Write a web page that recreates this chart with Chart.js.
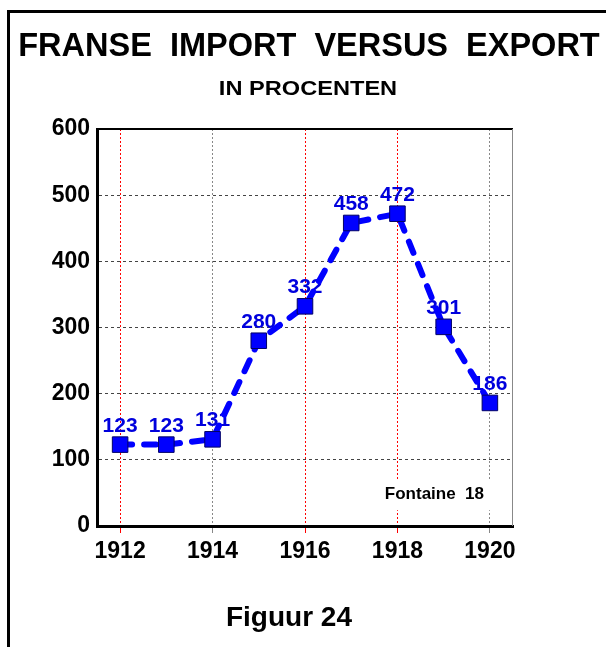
<!DOCTYPE html>
<html>
<head>
<meta charset="utf-8">
<script src="https://cdn.jsdelivr.net/npm/chart.js@4"></script>
<style>
  body { margin:0; background:#fff; }
  #wrap { position:relative; width:606px; height:647px; overflow:hidden; background:#fff; }
  #c { position:absolute; left:0; top:0; }
  .frame { position:absolute; left:7px; top:10px; right:-10px; bottom:-10px; border-left:3px solid #000; border-top:3px solid #000; }
  .txt { position:absolute; font-family:"Liberation Sans", Arial, sans-serif; font-weight:bold; color:#000; white-space:pre; line-height:1; }
  #title { left:0; width:618px; top:29px; font-size:32.5px; text-align:center; }
  #sub { left:0; width:616px; top:78px; font-size:20px; text-align:center; transform:scaleX(1.18); transform-origin:308px 0; }
  #fig { left:0; width:578px; top:603px; font-size:28px; text-align:center; }
</style>
</head>
<body>
<div id="wrap">
  <canvas id="c" width="606" height="647"></canvas>
  <div class="frame"></div>
  <div class="txt" id="title">FRANSE  IMPORT  VERSUS  EXPORT</div>
  <div class="txt" id="sub">IN PROCENTEN</div>
  <div class="txt" id="fig">Figuur 24</div>
</div>
<script>
// ==== データ ====
const YEARS   = [1912, 1913, 1914, 1915, 1916, 1917, 1918, 1919, 1920];
const PERCENT = [123, 123, 131, 280, 332, 458, 472, 301, 186];
const X_TICKS = [1912, 1914, 1916, 1918, 1920];
const Y_TICKS = [0, 100, 200, 300, 400, 500, 600];
const NOTE = 'Fontaine  18';

// 赤い縦グリッドの年
const RED_YEARS = [1912, 1916, 1918];
const FONT = '"Liberation Sans", Arial, sans-serif';
const xGridColors = X_TICKS.map(v => RED_YEARS.includes(v) ? '#ff0000' : '#888888');
const yGridColors = Y_TICKS.map(v => (v === 0 || v === 600) ? 'rgba(0,0,0,0)' : '#444444');

/* ===== 値ラベル（線の下に描く） ===== */
const valueLabels = {
  id: 'valueLabels',
  beforeDatasetsDraw(c) {
    const ctx = c.ctx;
    const meta = c.getDatasetMeta(0);
    const data = c.data.datasets[0].data;
    ctx.save();
    ctx.font = 'bold 21px ' + FONT;
    ctx.textAlign = 'center';
    ctx.textBaseline = 'alphabetic';
    ctx.fillStyle = '#0000dd';
    for (let i = 0; i < data.length; i++) {
      const el = meta.data[i];
      if (!el) continue;
      ctx.fillText(String(data[i].y), el.x, el.y - 13);
    }
    ctx.restore();
  }
};

/* ===== 枠（上・右）とメモ ===== */
const plotFrame = {
  id: 'plotFrame',
  beforeDatasetsDraw(c) {
    const { ctx, chartArea: a } = c;
    ctx.save();
    ctx.strokeStyle = '#000';
    ctx.lineWidth = 2;
    ctx.beginPath(); ctx.moveTo(a.left, a.top); ctx.lineTo(a.right, a.top); ctx.stroke();
    ctx.strokeStyle = '#888';
    ctx.lineWidth = 1;
    ctx.beginPath(); ctx.moveTo(a.right - 0.5, a.top); ctx.lineTo(a.right - 0.5, a.bottom); ctx.stroke();
    // メモの白地
    const x = c.scales.x.getPixelForValue(1918.8);
    const y = c.scales.y.getPixelForValue(48);
    ctx.font = 'bold 17px ' + FONT;
    const w = ctx.measureText(NOTE).width;
    ctx.fillStyle = '#fff';
    ctx.fillRect(x - w / 2 - 6, y - 14, w + 12, 30);
    ctx.fillStyle = '#000';
    ctx.textAlign = 'center';
    ctx.textBaseline = 'middle';
    ctx.fillText(NOTE, x, y);
    ctx.restore();
  }
};

const tickFont = { family: FONT, size: 23, weight: 'bold' };

new Chart(document.getElementById('c'), {
  type: 'line',
  data: {
    datasets: [{
      label: 'import/export',
      data: YEARS.map((y, i) => ({ x: y, y: PERCENT[i] })),
      borderColor: '#0000ff',
      borderWidth: 6,
      borderDash: [12, 12],
      borderCapStyle: 'round',
      tension: 0,
      fill: false,
      pointStyle: 'rect',
      pointRadius: 11,
      pointBackgroundColor: '#0000ff',
      pointBorderColor: '#000066',
      pointBorderWidth: 1
    }]
  },
  options: {
    responsive: false,
    animation: false,
    layout: { padding: { top: 129, right: 93, left: 0, bottom: 0 } },
    scales: {
      x: {
        type: 'linear',
        min: 1911.5, max: 1920.5,
        afterBuildTicks: s => { s.ticks = X_TICKS.map(v => ({ value: v })); },
        afterFit: s => { s.height = 121; },
        grid: {
          color: xGridColors,
          tickColor: xGridColors,
          lineWidth: 1,
          drawTicks: true,
          tickLength: 7
        },
        border: { display: true, color: '#000', width: 3, dash: [2, 2] },
        ticks: { color: '#000', font: tickFont, padding: 5, maxRotation: 0, autoSkip: false, callback: v => String(v) }
      },
      y: {
        min: 0, max: 600,
        afterBuildTicks: s => { s.ticks = Y_TICKS.map(v => ({ value: v })); },
        afterFit: s => { s.width = 97; },
        grid: {
          color: yGridColors,
          lineWidth: 1,
          drawTicks: false
        },
        border: { display: true, color: '#000', width: 3, dash: [3, 3] },
        ticks: { color: '#000', font: tickFont, padding: 7, callback: v => String(v) }
      }
    },
    plugins: { legend: { display: false }, tooltip: { enabled: false }, title: { display: false } }
  },
  plugins: [plotFrame, valueLabels]
});
</script>
</body>
</html>
